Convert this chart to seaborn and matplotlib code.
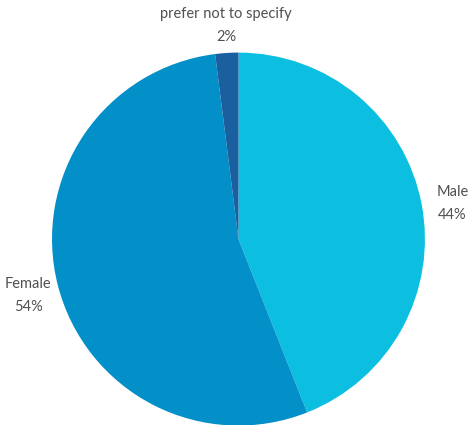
import numpy as np
import matplotlib
matplotlib.use('Agg')
import matplotlib.pyplot as plt
import seaborn as sns

# data
labels = ['Male', 'prefer not to specify', 'Female']
shares = [44, 2, 54]
colors = ['#0cbfe0', '#1a5f9f', '#038fc8']
# pie is drawn clockwise from 12 o'clock: Male, Female, then the small slice
order = [0, 2, 1]

sns.set_theme(style='white')
plt.rcParams['font.family'] = ['Lato', 'DejaVu Sans']

fig = plt.figure(figsize=(4.68, 4.25), dpi=100)
ax = fig.add_axes([0, 0, 1, 1])

vals = [shares[i] for i in order]
cols = [colors[i] for i in order]
names = [labels[i] for i in order]

wedges, _ = ax.pie(vals, colors=cols, startangle=90, counterclock=False,
                   radius=1, wedgeprops=dict(linewidth=0))

# place the labels just outside each wedge
for w, name, v in zip(wedges, names, vals):
    mid = np.deg2rad((w.theta1 + w.theta2) / 2)
    x, y = np.cos(mid), np.sin(mid)
    if abs(x) < 0.3:
        ha, va, r, dy = 'center', 'bottom', 1.05, 0
    elif x > 0:
        ha, va, r, dy = 'left', 'center', 1.08, -1.5
    else:
        ha, va, r, dy = 'right', 'center', 1.035, -6
    ax.annotate(f'{name}\n{v}%', xy=(r * x, r * y), xytext=(0, dy),
                textcoords='offset points', ha=ha, va=va, fontsize=10.5,
                color='#505050', linespacing=1.75, multialignment='center')

# match the reference framing (pie centre slightly left, bottom clipped)
ax.set_xlim(-1.279, 1.231)
ax.set_ylim(-0.997, 1.282)
ax.set_aspect('auto')
ax.axis('off')

fig.savefig('out.png', dpi=100)
